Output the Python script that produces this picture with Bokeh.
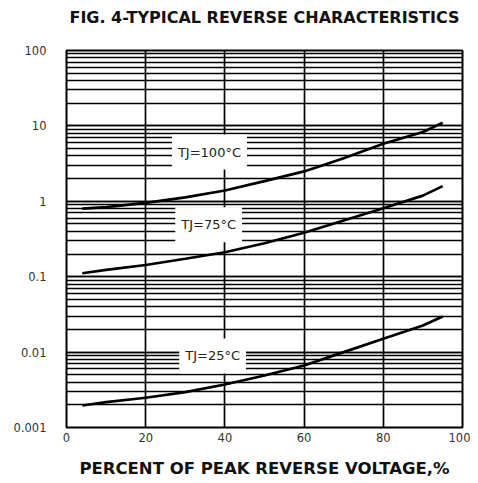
from bokeh.plotting import figure
from bokeh.models import Label, FixedTicker, CustomJSTickFormatter, Range1d, Title
from bokeh.embed import file_html
from bokeh.resources import INLINE

# Percent of peak reverse voltage (%)
pct = [4, 10, 20, 30, 40, 50, 60, 70, 80, 90, 95]
# Reverse current (uA) for each junction temperature
ir_100 = [0.80, 0.835, 0.955, 1.13, 1.39, 1.85, 2.49, 3.72, 5.8, 8.3, 11.0]
ir_75 = [0.111, 0.123, 0.143, 0.173, 0.211, 0.278, 0.382, 0.556, 0.81, 1.19, 1.59]
ir_25 = [0.00196, 0.00217, 0.00248, 0.00294, 0.00372, 0.0049, 0.00664, 0.0100, 0.0150, 0.0225, 0.0296]

x_ticks = [0, 20, 40, 60, 80, 100]
labels = ["TJ=100°C", "TJ=75°C", "TJ=25°C"]
label_x = [36.1, 35.9, 36.9]
label_y = [4.5, 0.49, 0.0089]

TITLE = "FIG. 4-TYPICAL REVERSE CHARACTERISTICS"
FONT = "DejaVu Sans"

p = figure(
    title=None,
    frame_width=396, frame_height=377,
    x_range=Range1d(0, 100), y_range=Range1d(0.001, 100),
    y_axis_type="log",
    output_backend="svg", toolbar_location=None,
    min_border_left=66, min_border_right=8, min_border_top=50, min_border_bottom=40,
    background_fill_color="white", border_fill_color="white",
)

# spacer between frame and title, then the title itself
p.add_layout(Title(text=" ", text_font_size="1px", standoff=21), "above")
p.add_layout(Title(text=TITLE, align="center", vertical_align="bottom", standoff=0,
                   text_font=FONT, text_font_size="16px", text_font_style="bold",
                   text_color="#111111"), "above")

p.outline_line_color = "black"
p.outline_line_width = 2

# grids
p.xgrid.ticker = FixedTicker(ticks=x_ticks)
p.xgrid.grid_line_color = "black"
p.xgrid.grid_line_width = 1.7
p.xgrid.grid_line_alpha = 1.0
p.ygrid.grid_line_color = "black"
p.ygrid.grid_line_width = 1.7
p.ygrid.grid_line_alpha = 1.0
p.ygrid.minor_grid_line_color = "black"
p.ygrid.minor_grid_line_width = 1.7
p.ygrid.minor_grid_line_alpha = 1.0

# axes
p.xaxis.ticker = FixedTicker(ticks=x_ticks)
p.xaxis.axis_label = "PERCENT OF PEAK REVERSE VOLTAGE,%"
p.xaxis.axis_label_text_font = FONT
p.xaxis.axis_label_text_font_size = "16.5px"
p.xaxis.axis_label_text_font_style = "bold"
p.xaxis.axis_label_text_color = "#111111"
p.xaxis.axis_label_standoff = 14

for ax in (p.xaxis[0], p.yaxis[0]):
    ax.axis_line_color = None
    ax.major_tick_line_color = None
    ax.minor_tick_line_color = None
    ax.major_tick_out = 0
    ax.minor_tick_out = 0
    ax.major_label_text_font = FONT
    ax.major_label_text_font_size = "11.5px"
    ax.major_label_text_color = "#333333"

p.xaxis.major_label_standoff = 5
p.yaxis.major_label_standoff = 20
p.yaxis.formatter = CustomJSTickFormatter(code="""
    if (tick >= 1) { return tick.toFixed(0); }
    const d = Math.round(-Math.log10(tick));
    return tick.toFixed(d);
""")

for ys in (ir_100, ir_75, ir_25):
    p.line(pct, ys, line_color="black", line_width=2.7)

for t, lx, ly in zip(labels, label_x, label_y):
    p.add_layout(Label(
        x=lx, y=ly, text=t, text_align="center", text_baseline="middle",
        text_font=FONT, text_font_size="13px", text_color="#222222",
        background_fill_color="white", background_fill_alpha=1.0,
        padding=(6, 10),
    ))

open("out.html", "w").write(file_html(p, INLINE))
